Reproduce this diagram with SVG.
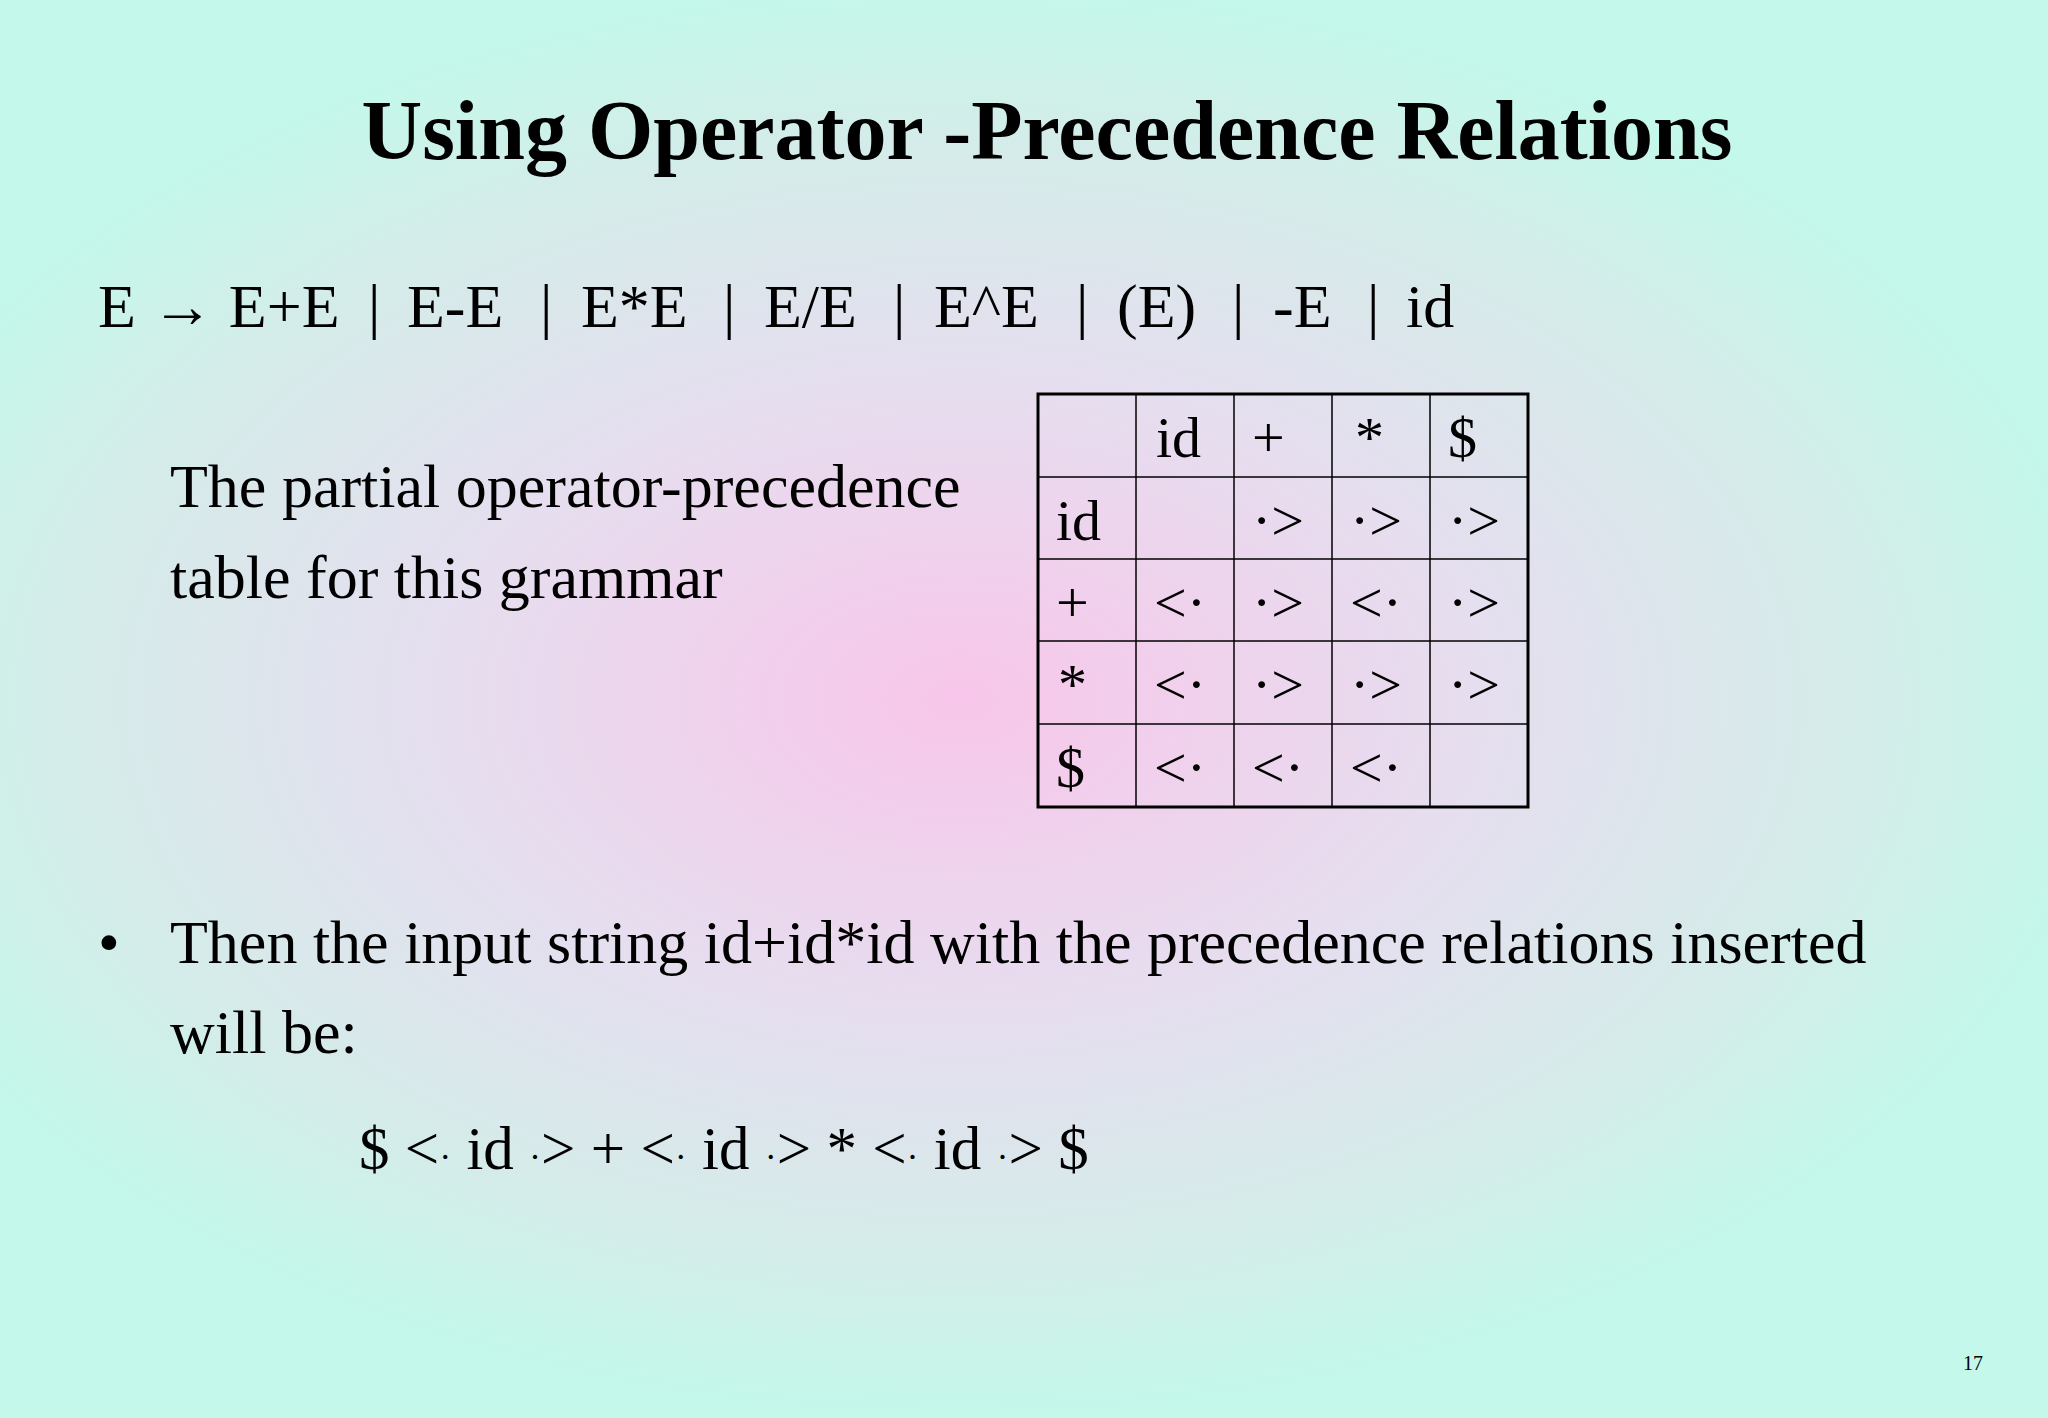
<svg xmlns="http://www.w3.org/2000/svg" width="2048" height="1418" viewBox="0 0 2048 1418">
<defs>
<radialGradient id="bg" cx="960" cy="700" r="1150" gradientUnits="userSpaceOnUse" gradientTransform="translate(960 700) scale(1 0.62) translate(-960 -700)">
<stop offset="0" stop-color="#f8c6ea"/>
<stop offset="0.45" stop-color="#e6deef"/>
<stop offset="0.8" stop-color="#d3ede9"/>
<stop offset="1" stop-color="#c4f8ea"/>
</radialGradient>
<style>
text{font-family:"Liberation Serif","Times New Roman",serif;fill:#000}
.t{font-size:62px}
.c{font-size:58px}
.g line{stroke:#000;stroke-width:1.5}
</style>
</defs>
<rect width="2048" height="1418" fill="url(#bg)"/>
<text x="1047" y="159" text-anchor="middle" font-size="84" font-weight="bold">Using Operator -Precedence Relations</text>
<g id="grammar" class="t">
<text x="98" y="327">E → E+E</text>
<text x="368" y="327">|</text><text x="407" y="327">E-E</text>
<text x="540" y="327">|</text><text x="581" y="327">E*E</text>
<text x="723" y="327">|</text><text x="764" y="327">E/E</text>
<text x="893" y="327">|</text><text x="934" y="327">E^E</text>
<text x="1076" y="327">|</text><text x="1117" y="327">(E)</text>
<text x="1232" y="327">|</text><text x="1273" y="327">-E</text>
<text x="1367" y="327">|</text><text x="1406" y="327">id</text>
</g>
<g id="desc">
<text class="t" x="170" y="507">The partial operator-precedence</text>
<text class="t" x="170" y="598">table for this grammar</text>
</g>
<g id="table">
<g class="g">
<line x1="1136" y1="394" x2="1136" y2="807"/>
<line x1="1234" y1="394" x2="1234" y2="807"/>
<line x1="1332" y1="394" x2="1332" y2="807"/>
<line x1="1430" y1="394" x2="1430" y2="807"/>
<line x1="1038" y1="477" x2="1528" y2="477"/>
<line x1="1038" y1="559" x2="1528" y2="559"/>
<line x1="1038" y1="641" x2="1528" y2="641"/>
<line x1="1038" y1="724" x2="1528" y2="724"/>
</g>
<rect x="1038" y="394" width="490" height="413" fill="none" stroke="#000" stroke-width="3"/>
<g class="c">
<text x="1156" y="457">id</text><text x="1252" y="457">+</text><text x="1355" y="457">*</text><text x="1448" y="457">$</text>
<text x="1056" y="540">id</text><text x="1056" y="622">+</text><text x="1058" y="704">*</text><text x="1056" y="787">$</text>
<text x="1252" y="540">·&gt;</text><text x="1350" y="540">·&gt;</text><text x="1448" y="540">·&gt;</text>
<text x="1154" y="622">&lt;·</text><text x="1252" y="622">·&gt;</text><text x="1350" y="622">&lt;·</text><text x="1448" y="622">·&gt;</text>
<text x="1154" y="704">&lt;·</text><text x="1252" y="704">·&gt;</text><text x="1350" y="704">·&gt;</text><text x="1448" y="704">·&gt;</text>
<text x="1154" y="787">&lt;·</text><text x="1252" y="787">&lt;·</text><text x="1350" y="787">&lt;·</text>
</g>
</g>
<g id="bullet">
<text class="t" x="98" y="963">•</text>
<text class="t" x="170" y="963">Then the input string id+id*id with the precedence relations inserted</text>
<text class="t" x="170" y="1053">will be:</text>
</g>
<text font-size="61" x="359" y="1169">$ &lt;<tspan font-size="36">·</tspan> id <tspan font-size="36">·</tspan>&gt; + &lt;<tspan font-size="36">·</tspan> id <tspan font-size="36">·</tspan>&gt; * &lt;<tspan font-size="36">·</tspan> id <tspan font-size="36">·</tspan>&gt; $</text>
<text x="1963" y="1370" font-size="20">17</text>
</svg>
